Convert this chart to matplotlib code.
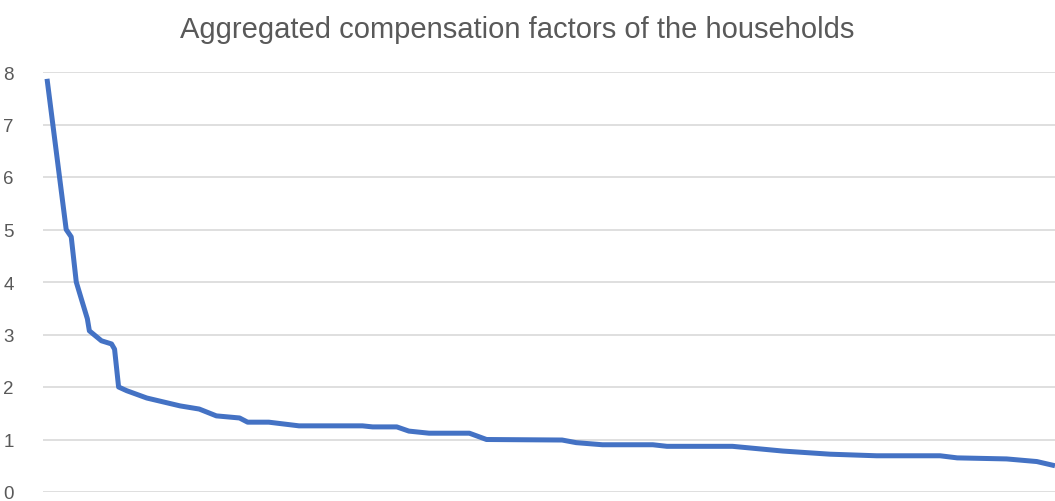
import numpy as np
import matplotlib
matplotlib.use('Agg')
import matplotlib.pyplot as plt

# share of households (%) ranked by factor, and the aggregated factor
hogares = [0.0, 1.9, 2.4, 2.9, 3.4, 4.0, 4.2, 5.4, 6.4, 6.7, 7.1, 7.9, 9.9,
           13.2, 15.1, 16.8, 19.1, 19.9, 22.0, 25.0, 31.3, 32.3, 34.7, 35.9,
           37.9, 41.9, 43.6, 51.1, 52.5, 55.1, 60.1, 61.5, 68.0, 73.0, 77.7,
           82.3, 88.6, 90.3, 95.2, 98.2, 100.0]
factores = [7.87, 5.0, 4.86, 4.0, 3.68, 3.3, 3.07, 2.88, 2.82, 2.72, 2.0, 1.93,
            1.79, 1.64, 1.58, 1.45, 1.41, 1.33, 1.33, 1.26, 1.26, 1.24, 1.24,
            1.16, 1.12, 1.12, 1.0, 0.99, 0.94, 0.9, 0.9, 0.87, 0.87, 0.78, 0.72,
            0.69, 0.69, 0.65, 0.63, 0.58, 0.5]

titulo = 'Aggregated compensation factors of the households'
marcas_y = [0, 1, 2, 3, 4, 5, 6, 7, 8]

plt.rcParams['font.family'] = ['Liberation Sans', 'DejaVu Sans']

fig = plt.figure(figsize=(10.55, 5.02), dpi=100)
ax = fig.add_axes([43/1055, 9/502, 1 - 43/1055, 420/502])

ax.plot(hogares, factores, color='#4472C4', lw=3.6, solid_joinstyle='round',
        solid_capstyle='butt', zorder=3)

ax.set_xlim(-0.4, 100)
ax.set_ylim(0, 8)
ax.set_yticks(marcas_y)
ax.set_xticks([])
ax.grid(axis='y', color='#d9d9d9', lw=1.2)
ax.set_axisbelow(True)
for lado in ax.spines.values():
    lado.set_visible(False)
ax.tick_params(axis='y', length=0, pad=21, labelsize=13.5, labelcolor='#595959')

fig.text(517/1055, 1 - 38/502, titulo, ha='center', va='baseline',
         fontsize=21, color='#595959')

fig.savefig('out.png', dpi=100)
